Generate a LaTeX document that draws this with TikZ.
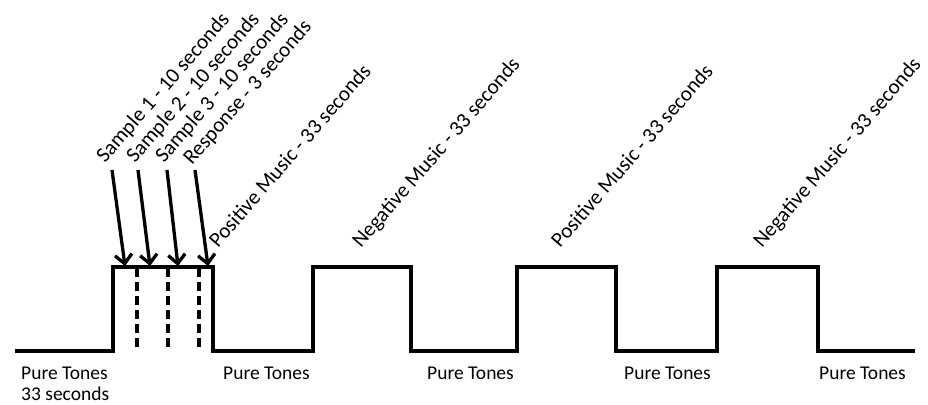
\documentclass[tikz,border=0pt]{standalone}
\usepackage{fontspec}
\setmainfont{Carlito}
\usetikzlibrary{arrows.meta}
\begin{document}
\begin{tikzpicture}[x=1pt,y=-1pt,
 wave/.style={line width=3.3pt, line join=miter},
 divider/.style={line width=3.3pt, dash pattern=on 9pt off 5pt},
 pointer/.style={line width=3.3pt, -{Straight Barb[length=9pt,width=17pt]}},
 toplabel/.style={rotate=49, anchor=base west, inner sep=0pt, font=\fontsize{21.2}{25}\selectfont},
 botlabel/.style={anchor=base west, inner sep=0pt, font=\fontsize{19.5}{21}\selectfont}]
\useasboundingbox (0,0) rectangle (928,404);
% waveform corners
\coordinate (w0) at (15,351);
\coordinate (r1) at (113,351); \coordinate (h1) at (113,267);
\coordinate (h1e) at (213,267); \coordinate (f1) at (213,351);
\coordinate (r2) at (313,351); \coordinate (h2) at (313,267);
\coordinate (h2e) at (411,267); \coordinate (f2) at (411,351);
\coordinate (r3) at (517,351); \coordinate (h3) at (517,267);
\coordinate (h3e) at (616,267); \coordinate (f3) at (616,351);
\coordinate (r4) at (717,351); \coordinate (h4) at (717,267);
\coordinate (h4e) at (818,267); \coordinate (f4) at (818,351);
\coordinate (wend) at (915,351);
\draw[wave] (w0) -- (r1) -- (h1) -- (h1e) -- (f1) -- (r2) -- (h2) -- (h2e) -- (f2)
  -- (r3) -- (h3) -- (h3e) -- (f3) -- (r4) -- (h4) -- (h4e) -- (f4) -- (wend);
% dashed dividers
\coordinate (d1t) at (137,268); \coordinate (d1b) at (137,351);
\coordinate (d2t) at (168,268); \coordinate (d2b) at (168,351);
\coordinate (d3t) at (199,268); \coordinate (d3b) at (199,351);
\draw[divider] (d1t) -- (d1b);
\draw[divider] (d2t) -- (d2b);
\draw[divider] (d3t) -- (d3b);
% rotated labels
\node[toplabel] (s1) at (105,164) {Sample 1 - 10 seconds};
\node[toplabel] (s2) at (135,164) {Sample 2 - 10 seconds};
\node[toplabel] (s3) at (164,164) {Sample 3 - 10 seconds};
\node[toplabel] (rs) at (192,166) {Response - 3 seconds};
\node[toplabel] (pm1) at (218,249) {Positive Music - 33 seconds};
\node[toplabel] (nm1) at (361,249) {Negative Music - 33 seconds};
\node[toplabel] (pm2) at (560,249) {Positive Music - 33 seconds};
\node[toplabel] (nm2) at (762,249) {Negative Music - 33 seconds};
% arrows
\coordinate (a1s) at (112,170); \coordinate (a1e) at (125,266);
\coordinate (a2s) at (138,170); \coordinate (a2e) at (150,266);
\coordinate (a3s) at (167,170); \coordinate (a3e) at (178,266);
\coordinate (a4s) at (195,170); \coordinate (a4e) at (208,266);
\draw[pointer] (a1s) -- (a1e);
\draw[pointer] (a2s) -- (a2e);
\draw[pointer] (a3s) -- (a3e);
\draw[pointer] (a4s) -- (a4e);
% bottom labels
\node[botlabel] (pt1) at (21,379) {Pure Tones};
\node[botlabel] (pt1b) at (21,400) {33 seconds};
\node[botlabel] (pt2) at (223,379) {Pure Tones};
\node[botlabel] (pt3) at (427,379) {Pure Tones};
\node[botlabel] (pt4) at (624,379) {Pure Tones};
\node[botlabel] (pt5) at (819,379) {Pure Tones};
\end{tikzpicture}
\end{document}
